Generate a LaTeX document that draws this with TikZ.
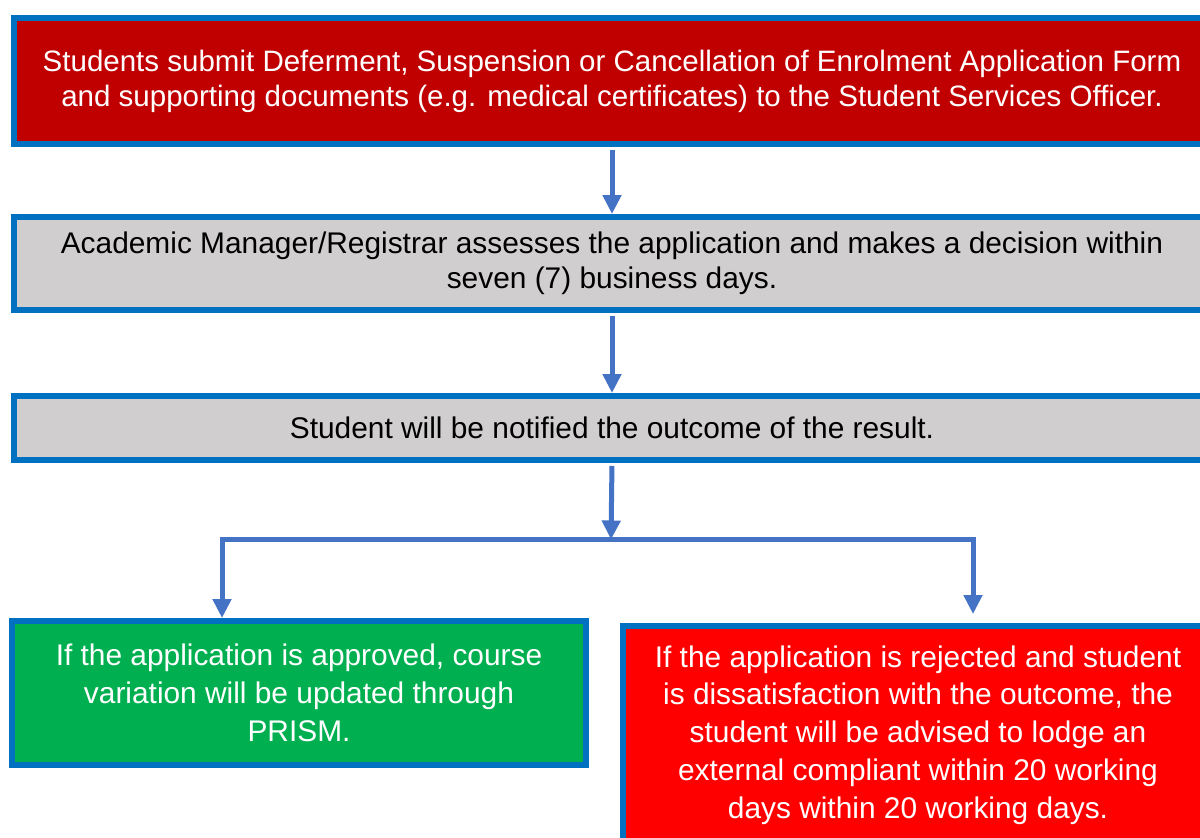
\documentclass[tikz,border=0pt]{standalone}
\usepackage{fontspec}
\setmainfont{Liberation Sans}
\usetikzlibrary{arrows.meta}
\definecolor{bord}{HTML}{0070C0}
\definecolor{arrc}{HTML}{4472C4}
\definecolor{topred}{HTML}{C00000}
\definecolor{boxgrey}{HTML}{D0CECE}
\definecolor{okgreen}{HTML}{00B050}
\definecolor{badred}{HTML}{FF0000}
\begin{document}
\begin{tikzpicture}[x=0.02cm,y=-0.02cm,
  box/.style={draw=bord, line width=0.12cm, align=center, inner sep=0pt,
    font=\fontsize{17}{19.8}\selectfont},
  lowbox/.style={box, font=\fontsize{17}{21.5}\selectfont},
  conn/.style={draw=arrc, line width=0.1cm, line join=miter},
  arr/.style={conn, -{Triangle[width=0.36cm,length=0.38cm]}}]
\useasboundingbox (0,0) rectangle (1200,838);
\clip (0,0) rectangle (1200,838);
\fill[white] (0,0) rectangle (1200,838);
\node[box, fill=topred, text=white, minimum width=23.92cm, minimum height=2.52cm,
  font=\fontsize{16.8}{19.8}\selectfont] (b1) at (612,81)
  {Students submit Deferment, Suspension or Cancellation of Enrolment Application Form\\and supporting documents (e.g. medical certificates) to the Student Services Officer.};
\node[box, fill=boxgrey, text=black, minimum width=23.92cm, minimum height=1.86cm] (b2) at (612,263.5)
  {Academic Manager/Registrar assesses the application and makes a decision within\\seven (7) business days.};
\node[box, fill=boxgrey, text=black, minimum width=23.92cm, minimum height=1.28cm] (b3) at (612,428)
  {Student will be notified the outcome of the result.};
\node[lowbox, fill=okgreen, text=white, minimum width=11.48cm, minimum height=2.88cm] (g) at (299,693)
  {If the application is approved, course\\variation will be updated through\\PRISM.};
\node[lowbox, fill=badred, text=white, minimum width=11.8cm, minimum height=4.36cm] (r) at (918,735)
  {If the application is rejected and student\\is dissatisfaction with the outcome, the\\student will be advised to lodge an\\external compliant within 20 working\\days within 20 working days.};
\coordinate (jm) at (611,539.5);
\coordinate (jl) at (222,539.5);
\coordinate (jr) at (973,539.5);
\draw[arr, shorten <=0.06cm] (b1.south) -- (b2.north);
\draw[arr, shorten <=0.06cm] (b2.south) -- (b3.north);
\draw[arr, shorten <=0.06cm] (b3.south) -- (jm);
\draw[arr] (jr) -- (jl) -- (jl |- g.north);
\draw[arr, shorten >=0.18cm] (jl) -- (jr) -- (jr |- r.north);
\end{tikzpicture}
\end{document}
